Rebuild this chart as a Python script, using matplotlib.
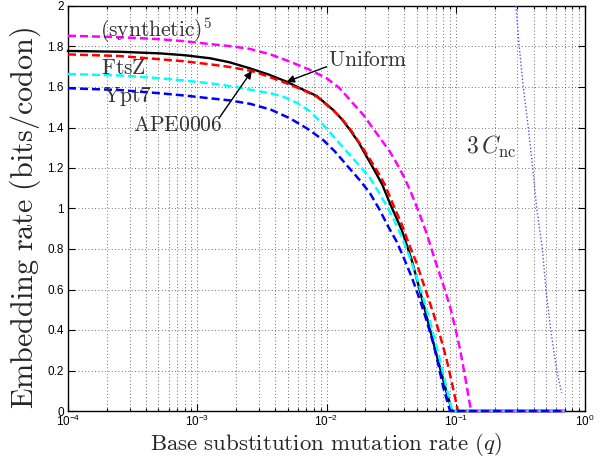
import numpy as np
import matplotlib
matplotlib.use('Agg')
import matplotlib.pyplot as plt
from matplotlib.ticker import FixedLocator, FixedFormatter, LogLocator, NullFormatter

plt.rcParams['font.family'] = ['Liberation Sans', 'DejaVu Sans']
plt.rcParams['mathtext.fontset'] = 'custom'
plt.rcParams['mathtext.rm'] = 'Liberation Sans'
plt.rcParams['mathtext.it'] = 'Liberation Sans:italic'

# ---------------- data (x given as log10 q) ----------------
logq_uniform = [-4.0, -3.6, -3.288, -3.1, -2.901, -2.75, -2.592, -2.45, -2.308, -2.205,
                -2.076, -1.947, -1.88, -1.818, -1.75, -1.689, -1.638, -1.57, -1.509,
                -1.418, -1.341, -1.29, -1.238, -1.18, -1.117, -1.07, -1.028, -0.155]
r_uniform = [1.778, 1.774, 1.766, 1.757, 1.742, 1.722, 1.692, 1.662, 1.626, 1.594,
             1.556, 1.486, 1.440, 1.388, 1.325, 1.256, 1.199, 1.120, 1.025,
             0.894, 0.746, 0.625, 0.499, 0.355, 0.202, 0.090, 0.0, 0.0]

logq_ape = [-4.0, -3.6, -3.288, -3.1, -2.901, -2.75, -2.579, -2.45, -2.308, -2.2,
            -2.076, -1.947, -1.88, -1.818, -1.72, -1.612, -1.55, -1.483, -1.42,
            -1.354, -1.302, -1.24, -1.173, -1.12, -1.07, -1.03, -0.983, -0.155]
r_ape = [1.761, 1.753, 1.737, 1.727, 1.712, 1.699, 1.679, 1.652, 1.618, 1.590,
         1.553, 1.484, 1.442, 1.393, 1.300, 1.190, 1.120, 1.017, 0.925,
         0.811, 0.729, 0.610, 0.482, 0.370, 0.252, 0.140, 0.0, 0.0]

logq_synth = [-4.0, -3.6, -3.288, -3.1, -2.901, -2.75, -2.592, -2.43, -2.282, -2.14,
              -1.998, -1.9, -1.818, -1.715, -1.612, -1.509, -1.457, -1.4, -1.354,
              -1.29, -1.225, -1.161, -1.1, -1.044, -1.0, -0.967, -0.925, -0.882, -0.155]
r_synth = [1.853, 1.846, 1.836, 1.826, 1.812, 1.802, 1.788, 1.760, 1.725, 1.688,
           1.643, 1.595, 1.536, 1.462, 1.371, 1.280, 1.223, 1.155, 1.091,
           0.990, 0.877, 0.746, 0.630, 0.515, 0.400, 0.305, 0.160, 0.0, 0.0]

logq_ftsz = [-4.0, -3.6, -3.288, -3.1, -2.901, -2.7, -2.514, -2.42, -2.334, -2.23,
             -2.128, -2.05, -1.973, -1.844, -1.715, -1.663, -1.6, -1.534, -1.475,
             -1.418, -1.365, -1.315, -1.26, -1.21, -1.165, -1.12, -1.075, -1.028, -0.155]
r_ftsz = [1.664, 1.657, 1.643, 1.632, 1.618, 1.600, 1.578, 1.567, 1.552, 1.522,
          1.480, 1.430, 1.375, 1.282, 1.190, 1.150, 1.085, 1.012, 0.940,
          0.861, 0.775, 0.684, 0.575, 0.466, 0.360, 0.245, 0.125, 0.0, 0.0]

logq_ypt7 = [-4.0, -3.6, -3.288, -3.1, -2.901, -2.75, -2.592, -2.43, -2.282, -2.15,
             -2.025, -1.934, -1.818, -1.74, -1.663, -1.59, -1.522, -1.46, -1.406,
             -1.34, -1.277, -1.225, -1.174, -1.135, -1.096, -1.044, -0.155]
r_ypt7 = [1.594, 1.585, 1.569, 1.558, 1.544, 1.534, 1.517, 1.488, 1.445, 1.395,
          1.338, 1.281, 1.195, 1.138, 1.075, 0.995, 0.910, 0.840, 0.762,
          0.660, 0.548, 0.445, 0.334, 0.230, 0.115, 0.0, 0.0]

q_cnc = [0.292, 0.310, 0.333, 0.364, 0.394, 0.423, 0.468, 0.499, 0.543, 0.604, 0.660]
r_cnc = [2.0, 1.8, 1.6, 1.4, 1.2, 1.0, 0.8, 0.6, 0.4, 0.2, 0.09]

x_ticks = [1e-4, 1e-3, 1e-2, 1e-1, 1e0]
x_tick_labels = [r'$10^{-4}$', r'$10^{-3}$', r'$10^{-2}$', r'$10^{-1}$', r'$10^{0}$']
y_ticks = [0, 0.2, 0.4, 0.6, 0.8, 1.0, 1.2, 1.4, 1.6, 1.8, 2.0]
y_tick_labels = ['0', '0.2', '0.4', '0.6', '0.8', '1', '1.2', '1.4', '1.6', '1.8', '2']

# ---------------- figure ----------------
fig = plt.figure(figsize=(6.05, 4.57), dpi=100)
ax = fig.add_axes([68 / 605, 1 - 411 / 457, 517 / 605, 405 / 457])
ax.set_xscale('log')
ax.set_xlim(1e-4, 1)
ax.set_ylim(0, 2)

dash = (3.2, 1.6)
common = dict(clip_on=False, zorder=3, solid_joinstyle='round', dash_joinstyle='round')
ax.plot(10 ** np.array(logq_uniform), r_uniform, color='black', lw=1.7, **common)
ax.plot(10 ** np.array(logq_ape), r_ape, color='red', lw=1.8, dashes=dash, **common)
ax.plot(10 ** np.array(logq_synth), r_synth, color='magenta', lw=1.8, dashes=dash, **common)
ax.plot(10 ** np.array(logq_ftsz), r_ftsz, color='cyan', lw=1.8, dashes=dash, **common)
ax.plot(10 ** np.array(logq_ypt7), r_ypt7, color='blue', lw=1.8, dashes=dash, **common)
ax.plot(q_cnc, r_cnc, color='#5050ff', lw=1.0, ls=(0, (1, 1.5)), zorder=3)

# ticks & grid
ax.xaxis.set_major_locator(FixedLocator(x_ticks))
ax.xaxis.set_major_formatter(FixedFormatter(x_tick_labels))
ax.xaxis.set_minor_locator(LogLocator(base=10, subs=np.arange(2, 10)))
ax.xaxis.set_minor_formatter(NullFormatter())
ax.yaxis.set_major_locator(FixedLocator(y_ticks))
ax.yaxis.set_major_formatter(FixedFormatter(y_tick_labels))
ax.tick_params(which='both', direction='in', top=True, right=True, width=0.8)
ax.tick_params(which='major', length=5, labelsize=8.5, pad=3)
ax.tick_params(axis='x', which='major', pad=2)
ax.tick_params(which='minor', length=2.5)
ax.grid(True, which='major', ls=(0, (1, 3)), color='0.25', lw=0.6)
ax.grid(True, which='minor', axis='x', ls=(0, (1, 3)), color='0.25', lw=0.6)
for s in ax.spines.values():
    s.set_linewidth(1.0)

# labels (Computer Modern style)
ax.set_xlabel(r'$\mathrm{Base\ substitution\ mutation\ rate\ }(q)$', fontsize=16.5,
              math_fontfamily='cm', color='0.15', va='center', ha='center')
ax.xaxis.set_label_coords(0.5, (411 - 444) / 405)
ax.set_ylabel(r'$\mathrm{Embedding\ rate\ (bits/codon)}$', fontsize=21.7,
              math_fontfamily='cm', color='0.15', va='center', ha='center')
ax.yaxis.set_label_coords((25 - 68) / 517, (411 - 218) / 405)

tc = '0.2'
fs = 15.5
ax.text(1.77e-4, 1.881, r'$\mathrm{(synthetic)}^5$', fontsize=fs, math_fontfamily='cm',
        color=tc, va='center', ha='left')
ax.text(1.80e-4, 1.692, r'$\mathrm{FtsZ}$', fontsize=fs, math_fontfamily='cm',
        color=tc, va='center', ha='left')
ax.text(1.87e-4, 1.551, r'$\mathrm{Ypt7}$', fontsize=fs, math_fontfamily='cm',
        color=tc, va='center', ha='left')
ax.text(3.18e-4, 1.412, r'$\mathrm{APE0006}$', fontsize=fs, math_fontfamily='cm',
        color=tc, va='center', ha='left')
ax.text(1.03e-2, 1.730, r'$\mathrm{Uniform}$', fontsize=fs, math_fontfamily='cm',
        color=tc, va='center', ha='left')
ax.text(0.119, 1.305, r'$3\,C_{\mathrm{nc}}$', fontsize=17, math_fontfamily='cm',
        color=tc, va='center', ha='left')

arrow = dict(arrowstyle='-|>', color='black', lw=1.0, mutation_scale=11, shrinkA=0, shrinkB=0)
ax.annotate('', xy=(2.64e-3, 1.679), xytext=(1.50e-3, 1.453), arrowprops=arrow, zorder=4)
ax.annotate('', xy=(4.92e-3, 1.626), xytext=(1.0e-2, 1.700), arrowprops=arrow, zorder=4)

fig.savefig('out.png', dpi=100)
